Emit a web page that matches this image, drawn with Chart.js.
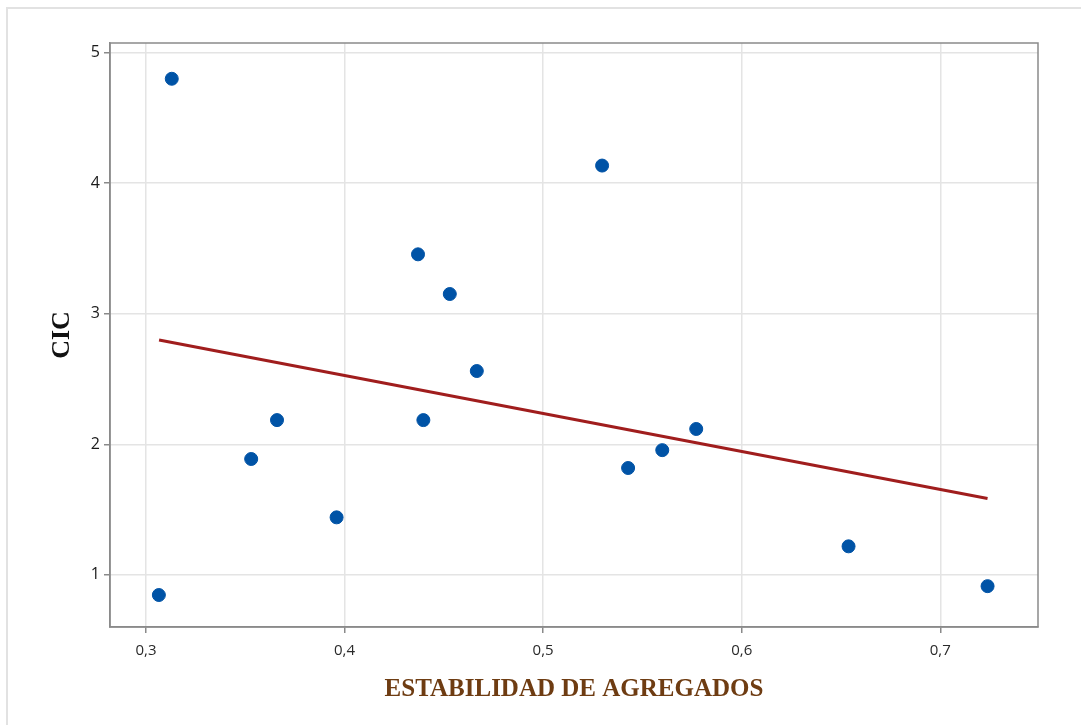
<!DOCTYPE html>
<html>
<head>
<meta charset="utf-8">
<script src="https://cdn.jsdelivr.net/npm/chart.js@4"></script>
<style>
  body { margin: 0; background: #fff; }
  #frame { position: absolute; left: 6px; top: 7px; width: 1075px; height: 718px;
           border-top: 2px solid #e2e2e2; border-left: 2px solid #e2e2e2; box-sizing: border-box; }
  #myChart { position: absolute; left: 0; top: 0; }
</style>
</head>
<body>
<div id="frame"></div>
<canvas id="myChart" width="1081" height="725"></canvas>
<script>
// Data
const estabilidad = [0.313, 0.3065, 0.353, 0.366, 0.396, 0.437, 0.4397, 0.453, 0.4666, 0.5297, 0.5428, 0.560, 0.5771, 0.6538, 0.7238];
const cic = [4.80, 0.845, 1.887, 2.185, 1.44, 3.455, 2.185, 3.151, 2.561, 4.135, 1.818, 1.955, 2.117, 1.218, 0.913];

// fitted line, end points
const lineX = [0.3066, 0.7238];
const lineY = [2.798, 1.585];

const xTicks = [0.3, 0.4, 0.5, 0.6, 0.7];
const yTicks = [1, 2, 3, 4, 5];

const points = estabilidad.map((v, i) => ({x: v, y: cic[i]}));
const fit = lineX.map((v, i) => ({x: v, y: lineY[i]}));

// draws the box round the plot area
const boxPlugin = {
  id: 'box',
  beforeDatasetsDraw(chart) {
    const {ctx, chartArea: a} = chart;
    ctx.save();
    ctx.strokeStyle = '#8a8a8a';
    ctx.lineWidth = 1.5;
    ctx.strokeRect(a.left, a.top, a.right - a.left, a.bottom - a.top);
    ctx.restore();
  }
};

const ctx = document.getElementById('myChart');

new Chart(ctx, {
  type: 'scatter',
  data: {
    datasets: [{
      label: 'CIC',
      data: points,
      backgroundColor: '#0053a6',
      borderColor: '#0053a6',
      pointRadius: 6.5,
      order: 1
    }, {
      type: 'line',
      label: 'Ajuste',
      data: fit,
      borderColor: '#a01d1d',
      borderWidth: 3,
      pointRadius: 0,
      fill: false,
      order: 2
    }]
  },
  options: {
    responsive: false,
    animation: false,
    layout: { padding: { top: 43, right: 43, left: 0, bottom: 0 } },
    plugins: { legend: { display: false }, tooltip: { enabled: false } },
    scales: {
      x: {
        type: 'linear',
        min: 0.2819,
        max: 0.7492,
        afterBuildTicks: s => { s.ticks = xTicks.map(v => ({value: v})); },
        afterFit: s => { s.height = 98; },
        grid: { color: '#e4e4e4', lineWidth: 1.5, tickLength: 6, tickColor: '#8a8a8a' },
        border: { color: '#8a8a8a', width: 1.5 },
        ticks: {
          color: '#2a2a2a',
          padding: 9,
          font: { family: 'Open Sans', size: 15 },
          callback: v => v.toFixed(1).replace('.', ',')
        },
        title: {
          display: true,
          text: 'ESTABILIDAD DE AGREGADOS',
          color: '#6e3c12',
          font: { family: 'Liberation Serif', size: 25, weight: 'bold' },
          padding: { top: 0, bottom: 20 }
        }
      },
      y: {
        type: 'linear',
        min: 0.60,
        max: 5.074,
        afterBuildTicks: s => { s.ticks = yTicks.map(v => ({value: v})); },
        afterFit: s => { s.width = 110; },
        grid: { color: '#e4e4e4', lineWidth: 1.5, tickLength: 6, tickColor: '#8a8a8a' },
        border: { color: '#8a8a8a', width: 1.5 },
        ticks: {
          color: '#1a1a1a',
          padding: 4,
          font: { family: 'Open Sans', size: 16 },
          callback: v => String(v)
        },
        title: {
          display: true,
          text: 'CIC',
          color: '#111',
          font: { family: 'Liberation Serif', size: 26, weight: 'bold' },
          padding: { top: 47, bottom: 0 }
        }
      }
    }
  },
  plugins: [boxPlugin]
});
</script>
</body>
</html>
